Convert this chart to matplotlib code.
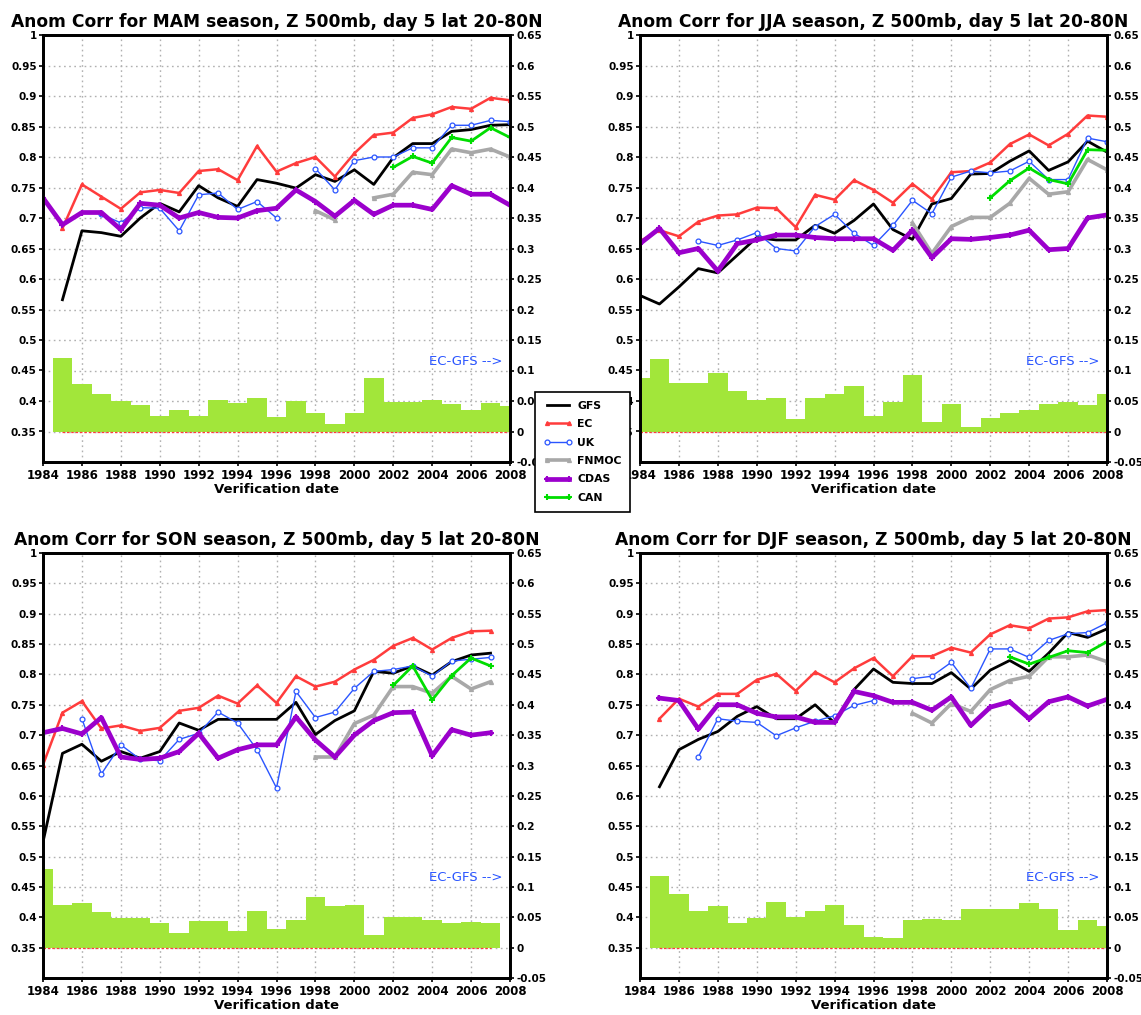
import matplotlib
matplotlib.use('Agg')
import matplotlib.pyplot as plt
import matplotlib.transforms as mtransforms
import numpy as np

nan = float('nan')

years = list(range(1984, 2009))
year_ticks = list(range(1984, 2009, 2))
left_ticks = [1.0, 0.95, 0.9, 0.85, 0.8, 0.75, 0.7, 0.65, 0.6, 0.55, 0.5, 0.45, 0.4, 0.35]
right_ticks = [0.65, 0.6, 0.55, 0.5, 0.45, 0.4, 0.35, 0.3, 0.25, 0.2, 0.15, 0.1, 0.05, 0.0, -0.05]

models = ['GFS', 'EC', 'UK', 'FNMOC', 'CDAS', 'CAN']
seasons = ['MAM', 'JJA', 'SON', 'DJF']

# ---- MAM ----
mam_gfs = [nan, 0.566, 0.679, 0.676, 0.670, 0.700, 0.724, 0.710, 0.753, 0.733, 0.719, 0.763, 0.757,
           0.749, 0.771, 0.760, 0.779, 0.755, 0.799, 0.822, 0.822, 0.842, 0.845, 0.852, 0.853]
mam_ec = [nan, 0.683, 0.755, 0.735, 0.715, 0.742, 0.746, 0.741, 0.777, 0.780, 0.762, 0.818, 0.776,
          0.790, 0.800, 0.768, 0.806, 0.836, 0.840, 0.864, 0.870, 0.882, 0.879, 0.897, 0.893]
mam_uk = [nan, nan, nan, 0.706, 0.692, 0.717, 0.716, 0.679, 0.738, 0.741, 0.714, 0.727, 0.700,
          nan, 0.781, 0.746, 0.794, 0.800, 0.800, 0.815, 0.815, 0.852, 0.852, 0.860, 0.858]
mam_fnmoc = [nan] * 14 + [0.712, 0.697, nan, 0.733, 0.739, 0.775, 0.771, 0.813, 0.807, 0.813, 0.800]
mam_cdas = [0.733, 0.689, 0.709, 0.709, 0.681, 0.724, 0.721, 0.700, 0.709, 0.701, 0.700, 0.712, 0.716,
            0.746, 0.727, 0.703, 0.729, 0.706, 0.721, 0.721, 0.714, 0.753, 0.739, 0.739, 0.721]
mam_can = [nan] * 18 + [0.783, 0.801, 0.790, 0.832, 0.826, 0.848, 0.832]
mam_diff = [nan, 0.120, 0.078, 0.062, 0.050, 0.043, 0.026, 0.035, 0.026, 0.052, 0.047, 0.055, 0.023,
            0.050, 0.030, 0.013, 0.030, 0.088, 0.048, 0.048, 0.052, 0.045, 0.035, 0.047, 0.042]

# ---- JJA ----
jja_gfs = [0.573, 0.559, 0.587, 0.617, 0.610, 0.639, 0.668, 0.664, 0.664, 0.688, 0.675, 0.696, 0.723,
           0.681, 0.665, 0.723, 0.732, 0.772, 0.773, 0.793, 0.810, 0.778, 0.792, 0.826, 0.808]
jja_ec = [0.662, 0.680, 0.670, 0.694, 0.704, 0.706, 0.717, 0.716, 0.685, 0.738, 0.730, 0.762, 0.746,
          0.725, 0.756, 0.731, 0.775, 0.777, 0.791, 0.821, 0.837, 0.819, 0.838, 0.868, 0.866]
jja_uk = [nan, nan, nan, 0.662, 0.655, 0.664, 0.676, 0.650, 0.646, 0.686, 0.706, 0.675, 0.655,
          0.688, 0.729, 0.707, 0.767, 0.777, 0.774, 0.777, 0.793, 0.763, 0.763, 0.831, 0.825]
jja_fnmoc = [nan] * 14 + [0.692, 0.642, 0.686, 0.701, 0.701, 0.724, 0.765, 0.739, 0.743, 0.796, 0.779]
jja_cdas = [0.658, 0.683, 0.643, 0.650, 0.613, 0.658, 0.664, 0.672, 0.672, 0.668, 0.666, 0.666, 0.666,
            0.647, 0.680, 0.635, 0.666, 0.665, 0.668, 0.672, 0.680, 0.648, 0.650, 0.700, 0.705]
jja_can = [nan] * 18 + [0.733, 0.761, 0.782, 0.763, 0.756, 0.812, 0.811]
jja_diff = [0.087, 0.119, 0.079, 0.079, 0.096, 0.067, 0.052, 0.055, 0.020, 0.055, 0.062, 0.074, 0.025,
            0.048, 0.093, 0.015, 0.045, 0.008, 0.022, 0.030, 0.036, 0.045, 0.049, 0.043, 0.062]

# ---- SON ----
son_gfs = [0.524, 0.670, 0.685, 0.657, 0.673, 0.662, 0.673, 0.720, 0.708, 0.726, 0.726, 0.726, 0.726,
           0.754, 0.701, 0.724, 0.740, 0.805, 0.802, 0.814, 0.799, 0.821, 0.832, 0.835, nan]
son_ec = [0.651, 0.737, 0.756, 0.711, 0.716, 0.707, 0.712, 0.740, 0.745, 0.765, 0.752, 0.782, 0.753,
          0.797, 0.780, 0.788, 0.808, 0.824, 0.847, 0.860, 0.841, 0.860, 0.871, 0.872, nan]
son_uk = [nan, nan, 0.727, 0.636, 0.684, 0.660, 0.658, 0.693, 0.703, 0.738, 0.720, 0.676, 0.613,
          0.772, 0.729, 0.738, 0.777, 0.805, 0.808, 0.814, 0.797, 0.822, 0.825, 0.828, nan]
son_fnmoc = [nan] * 14 + [0.664, 0.664, 0.719, 0.733, 0.780, 0.780, 0.769, 0.797, 0.776, 0.788, nan]
son_cdas = [0.704, 0.711, 0.702, 0.729, 0.664, 0.660, 0.662, 0.673, 0.703, 0.662, 0.676, 0.684, 0.684,
            0.730, 0.692, 0.664, 0.700, 0.724, 0.737, 0.738, 0.666, 0.709, 0.700, 0.704, nan]
son_can = [nan] * 18 + [0.782, 0.814, 0.758, 0.798, 0.827, 0.814, nan]
son_diff = [0.130, 0.071, 0.073, 0.058, 0.049, 0.049, 0.041, 0.024, 0.044, 0.044, 0.028, 0.061, 0.031,
            0.046, 0.083, 0.068, 0.070, 0.021, 0.050, 0.050, 0.045, 0.041, 0.043, 0.041, nan]

# ---- DJF ----
djf_gfs = [nan, 0.615, 0.676, 0.693, 0.706, 0.731, 0.747, 0.727, 0.727, 0.750, 0.720, 0.775, 0.809,
           0.787, 0.785, 0.785, 0.803, 0.776, 0.807, 0.823, 0.805, 0.835, 0.869, 0.861, 0.875]
djf_ec = [nan, 0.727, 0.760, 0.747, 0.768, 0.768, 0.791, 0.801, 0.773, 0.804, 0.787, 0.810, 0.827,
          0.797, 0.830, 0.830, 0.844, 0.836, 0.866, 0.881, 0.876, 0.892, 0.894, 0.904, 0.906]
djf_uk = [nan, nan, nan, 0.664, 0.727, 0.723, 0.721, 0.699, 0.712, 0.723, 0.732, 0.749, 0.757,
          nan, 0.793, 0.797, 0.820, 0.777, 0.842, 0.842, 0.828, 0.856, 0.867, 0.869, 0.885]
djf_fnmoc = [nan] * 14 + [0.736, 0.720, 0.752, 0.739, 0.775, 0.790, 0.797, 0.829, 0.829, 0.832, 0.821]
djf_cdas = [nan, 0.761, 0.757, 0.710, 0.750, 0.750, 0.736, 0.730, 0.730, 0.721, 0.721, 0.772, 0.765,
            0.754, 0.754, 0.741, 0.763, 0.716, 0.746, 0.755, 0.727, 0.755, 0.763, 0.748, 0.759]
djf_can = [nan] * 19 + [0.829, 0.817, 0.828, 0.839, 0.836, 0.854]
djf_diff = [nan, 0.118, 0.088, 0.061, 0.068, 0.041, 0.049, 0.075, 0.050, 0.060, 0.071, 0.038, 0.018,
            0.016, 0.045, 0.048, 0.045, 0.063, 0.063, 0.063, 0.073, 0.063, 0.029, 0.045, 0.036]

# line styles per model
styles = {
    'GFS':   dict(color='black', lw=2.0),
    'EC':    dict(color='#ff3c3c', lw=1.8, marker='^', ms=2.8),
    'UK':    dict(color='#2a55ff', lw=1.0, marker='o', ms=3.5, mfc='white', mew=0.9),
    'FNMOC': dict(color='#a8a8a8', lw=2.6, marker='^', ms=2.8),
    'CDAS':  dict(color='#9b00cc', lw=3.4, marker='+', ms=4, mew=1.5),
    'CAN':   dict(color='#00dd00', lw=2.0, marker='+', ms=4, mew=1.5),
}
BAR_COLOR = '#a2e63a'
FONT = 'DejaVu Sans'


def draw_panel(fig, rect, season, series, diff):
    ax2 = fig.add_axes(rect)
    ax = ax2.twinx()
    ax.set_zorder(ax2.get_zorder() + 1)
    ax.patch.set_visible(False)

    # bars and grid live on the right (EC-GFS) axis, underneath the curves
    ax2.set_axisbelow(True)
    ax2.grid(True, color='#b0b0b0', ls=(0, (1.2, 2.5)), lw=1.0)
    ax2.bar(years, diff, width=1.0, color=BAR_COLOR, lw=0, zorder=2)
    ok = [y for y, d in zip(years, diff) if not np.isnan(d)]
    ax2.plot(ok, [0] * len(ok), color='#ff3c3c', ls=(0, (2, 1.5)), lw=0.9, zorder=3)
    ax2.set_ylim(-0.05, 0.65)
    ax2.set_xlim(1984, 2008)
    ax2.set_xticks(year_ticks)
    ax2.set_xticklabels([str(y) for y in year_ticks])
    ax2.yaxis.tick_right()
    ax2.set_yticks(right_ticks)
    ax2.set_yticklabels(['%g' % round(v, 2) for v in right_ticks])

    for name in models:
        ax.plot(years, series[name], label=name, **styles[name])
    ax.set_ylim(0.3, 1.0)
    ax.set_xlim(1984, 2008)
    ax.yaxis.tick_left()
    ax.set_yticks(left_ticks)
    ax.set_yticklabels(['%g' % v for v in left_ticks])

    for a in (ax, ax2):
        a.tick_params(labelsize=7.5, length=3, width=1.2, pad=1.5)
        for lab in a.get_xticklabels() + a.get_yticklabels():
            lab.set_fontweight('bold')
            lab.set_family(FONT)
        for sp in a.spines.values():
            sp.set_linewidth(2.0)
    ax2.tick_params(axis='x', labelsize=8.5, pad=2)

    ax2.set_title('Anom Corr for %s season, Z 500mb, day 5 lat 20-80N' % season,
                  fontsize=12.3, fontweight='bold', family=FONT, pad=6)
    ax2.set_xlabel('Verification date', fontsize=9.5, fontweight='bold', family=FONT, labelpad=1)

    trans = mtransforms.blended_transform_factory(ax2.transAxes, ax2.transData)
    ax2.text(0.985, 0.115, 'EC-GFS -->', transform=trans, ha='right', va='center',
             color='#2a55ff', fontsize=9.5, family=FONT)
    return ax


def main():
    fig = plt.figure(figsize=(11.41, 10.15), dpi=100)
    w = 467 / 1141
    h_top = 427 / 1015
    h_bot = 425 / 1015
    rects = [
        [43 / 1141, 1 - 462 / 1015, w, h_top],
        [640 / 1141, 1 - 462 / 1015, w, h_top],
        [43 / 1141, 1 - 978 / 1015, w, h_bot],
        [640 / 1141, 1 - 978 / 1015, w, h_bot],
    ]
    data = {
        'MAM': ([mam_gfs, mam_ec, mam_uk, mam_fnmoc, mam_cdas, mam_can], mam_diff),
        'JJA': ([jja_gfs, jja_ec, jja_uk, jja_fnmoc, jja_cdas, jja_can], jja_diff),
        'SON': ([son_gfs, son_ec, son_uk, son_fnmoc, son_cdas, son_can], son_diff),
        'DJF': ([djf_gfs, djf_ec, djf_uk, djf_fnmoc, djf_cdas, djf_can], djf_diff),
    }
    axes = []
    for rect, season in zip(rects, seasons):
        lines, diff = data[season]
        series = dict(zip(models, lines))
        axes.append(draw_panel(fig, rect, season, series, diff))

    handles, labels = axes[0].get_legend_handles_labels()
    leg = fig.legend(handles, labels, loc='upper left', bbox_to_anchor=(535 / 1141, 1 - 392 / 1015),
                     numpoints=2, handlelength=2.6, labelspacing=0.78,
                     borderpad=0.8, handletextpad=0.5, borderaxespad=0, fancybox=False,
                     framealpha=1, edgecolor='black',
                     prop=dict(family=FONT, weight='bold', size=7.8))
    leg.get_frame().set_linewidth(1.2)

    plt.savefig('out.png', dpi=100)


if __name__ == '__main__':
    main()
